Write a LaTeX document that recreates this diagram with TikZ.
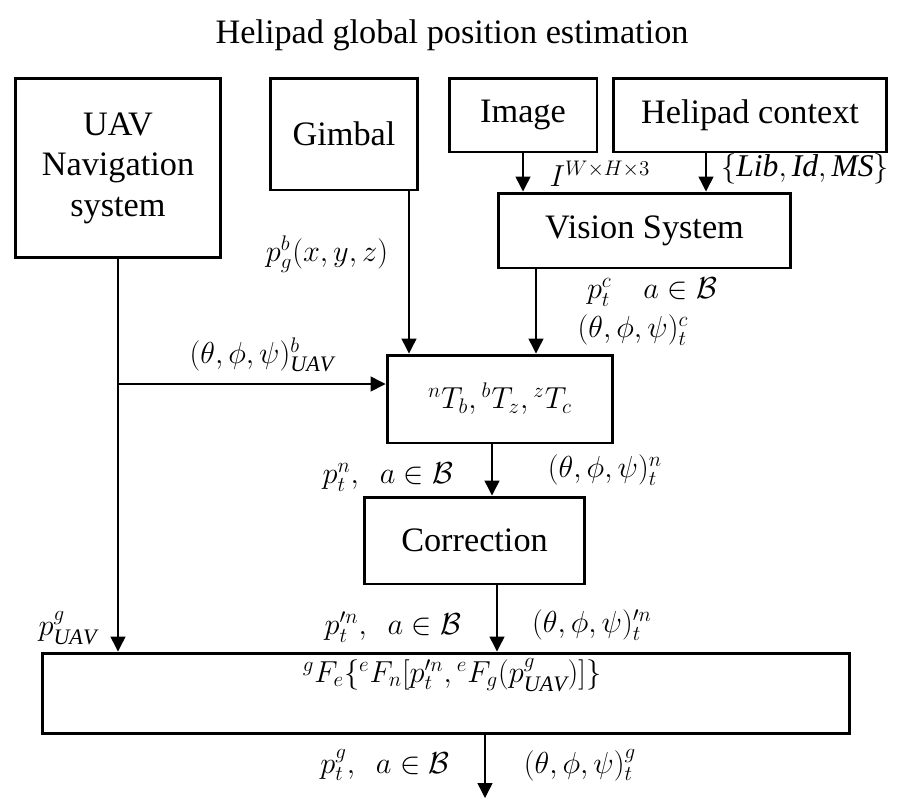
\documentclass[tikz,border=0pt]{standalone}
\usepackage{amsmath,amssymb}
\usepackage{fontspec}
\setmainfont{Liberation Serif}
\usepackage{tikz}
\usetikzlibrary{arrows.meta,positioning,calc}

\begin{document}
\begin{tikzpicture}[x=0.02cm, y=-0.02cm,
  font=\fontsize{19.5}{23}\selectfont,
  blk/.style={draw, line width=1.7pt, align=center, inner sep=0pt},
  arr/.style={-{Triangle[length=3mm,width=3mm]}, line width=0.8pt},
  lbl/.style={inner sep=1pt, font=\fontsize{18}{21}\selectfont}]
  \useasboundingbox (0,0) rectangle (905,798);
  \node (ttl) at (452,35) {Helipad global position estimation};
  % input blocks
  \node[blk, minimum width=4.12cm, minimum height=3.6cm] (nav) at (118,168) {UAV\\Navigation\\system};
  \node[blk, minimum width=2.96cm, minimum height=2.24cm] (gim) at (344,134) {Gimbal};
  \node[blk, minimum width=2.96cm, minimum height=1.48cm] (img) at (523,115) {Image};
  \node[blk, minimum width=5.48cm, minimum height=1.48cm] (ctx) at (750,115) {Helipad context};
  \node[blk, minimum width=5.86cm, minimum height=1.5cm] (vis) at (644.5,230.5) {Vision System};
  % processing chain
  \node[blk, minimum width=4.52cm, minimum height=1.76cm, font=\fontsize{18}{21}\selectfont] (tf) at (500,399) {${}^nT_b, {}^bT_z, {}^zT_c$};
  \node[blk, minimum width=4.42cm, minimum height=1.74cm] (cor) at (474.5,540.5) {Correction};
  \node[blk, minimum width=16.16cm, minimum height=1.6cm] (fus) at (446,693) {};
  \node[lbl] (fusf) at (452,675) {${}^gF_e\{{}^eF_n[p'^n_t, {}^eF_g(p^g_{\mathit{UAV}})]\}$};
  \coordinate (out) at (485,798);
  % connectors
  \draw[arr] (img.south) -- (img.south |- vis.north);
  \draw[arr] ([xshift=-0.88cm]ctx.south) -- ([xshift=-0.88cm]ctx.south |- vis.north);
  \draw[arr] ([xshift=1.3cm]gim.south) -- ([xshift=1.3cm]gim.south |- tf.north);
  \draw[arr] ([xshift=0.72cm]tf.north |- vis.south) -- ([xshift=0.72cm]tf.north);
  \draw[arr] (nav.south) -- (nav.south |- fus.north);
  \draw[arr] ([yshift=0.3cm]nav.south |- tf.west) -- ([yshift=0.3cm]tf.west);
  \draw[arr] ([xshift=-0.16cm]tf.south) -- ([xshift=-0.16cm]tf.south |- cor.north);
  \draw[arr] ([xshift=0.45cm]cor.south) -- ([xshift=0.45cm]cor.south |- fus.north);
  \draw[arr] (fus.south -| out) -- (out);
  % labels
  \node[lbl] (limg) at (600,174) {$I^{W\times H\times 3}$};
  \node[lbl] (lctx) at (805,169) {$\{\mathit{Lib}, \mathit{Id}, \mathit{MS}\}$};
  \node[lbl] (lgim) at (327,254) {$p_g^b(x,y,z)$};
  \node[lbl] (lvp) at (652,292) {$p_t^c\quad a\in\mathcal{B}$};
  \node[lbl] (lva) at (633,330) {$(\theta,\phi,\psi)_t^c$};
  \node[lbl] (lnav) at (262,355) {$(\theta,\phi,\psi)_{\mathit{UAV}}^b$};
  \node[lbl] (ltp) at (388,477) {$p_t^n,\ \ a\in\mathcal{B}$};
  \node[lbl] (lta) at (605,470) {$(\theta,\phi,\psi)_t^n$};
  \node[lbl] (lgps) at (68,628) {$p_{\mathit{UAV}}^g$};
  \node[lbl] (lcp) at (393,627) {$p'^n_t,\ \ a\in\mathcal{B}$};
  \node[lbl] (lca) at (592,625) {$(\theta,\phi,\psi)'^n_t$};
  \node[lbl] (lop) at (385,765) {$p_t^g,\ \ a\in\mathcal{B}$};
  \node[lbl] (loa) at (580,765) {$(\theta,\phi,\psi)_t^g$};
\end{tikzpicture}
\end{document}
